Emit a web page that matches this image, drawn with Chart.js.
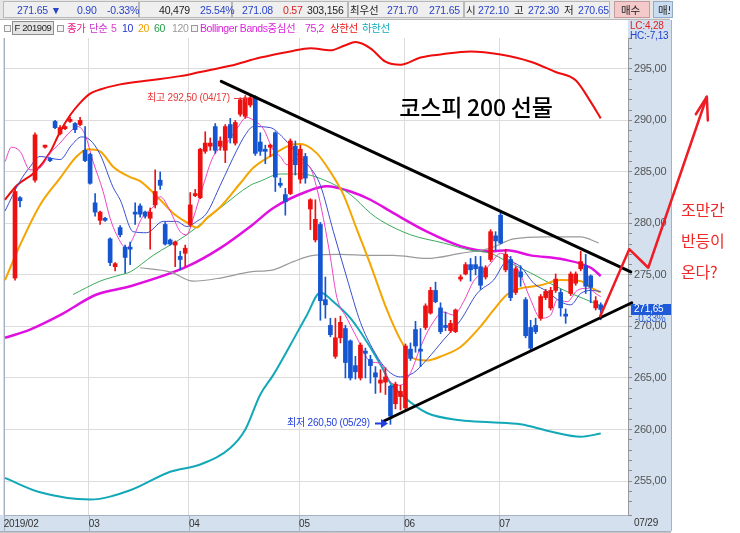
<!DOCTYPE html>
<html lang="ko">
<head>
<meta charset="UTF-8" />
<meta name="viewport" content="width=device-width, initial-scale=1" />
<title>코스피 200 선물</title>
<script src="https://cdn.jsdelivr.net/npm/chart.js"></script>
<style>
  body { margin: 0; background: #fff; }
  #wrap {
    position: relative; width: 740px; height: 533px; overflow: hidden;
    font-family: "Liberation Sans Narrow", "Liberation Sans", "Noto Sans CJK KR", sans-serif;
    font-size: 10.5px; letter-spacing: -0.2px;
  }
  #chart { position: absolute; left: 0; top: 0; }
  #row1 { position: absolute; left: 0; top: 0; width: 670px; height: 19px; background: #e6e6e6; border-bottom: 1px solid #b8b8b8; }
  .cell { position: absolute; top: 1px; height: 17px; border: 1px solid #b8b8b8; background: #efefef; box-sizing: border-box; }
  .hd { position: absolute; white-space: nowrap; line-height: 14px; }
  .r1 { top: 3px; }
  .r2 { top: 21px; font-size: 10.5px; letter-spacing: -0.4px; }
  .chk { position: absolute; top: 25px; width: 5px; height: 5px; border: 1px solid #9a9a9a; background: #f4f4f4; }
  .blue { color: #2a44c8; }
  #fbox { position: absolute; left: 12px; top: 21px; width: 42px; height: 14px; background: #e4e4e4; border: 1px solid #8d8d8d;
          box-sizing: border-box; font-size: 9.5px; letter-spacing: -0.4px; line-height: 12px; text-align: center; color: #222; white-space: nowrap; overflow: hidden; }
</style>
</head>
<body>
<div id="wrap">
  <canvas id="chart" width="740" height="533"></canvas>

  <div id="row1">
    <div class="cell" style="left:3px;width:136px"></div>
    <div class="cell" style="left:139px;width:93px"></div>
    <div class="cell" style="left:232px;width:116px"></div>
    <div class="cell" style="left:348px;width:116px"></div>
    <div class="cell" style="left:464px;width:146px"></div>
    <div class="cell" style="left:614px;width:36px;background:#f3c9c9;border-color:#c69a9a"></div>
    <div class="cell" style="left:653px;width:20px;background:#c9dcf1;border-color:#93a9c4"></div>
  </div>
  <span class="hd r1 blue" style="left:17px">271.65 ▼</span>
  <span class="hd r1 blue" style="left:77px">0.90</span>
  <span class="hd r1 blue" style="left:107px">-0.33%</span>
  <span class="hd r1" style="left:159px;color:#222">40,479</span>
  <span class="hd r1 blue" style="left:200px">25.54%</span>
  <span class="hd r1 blue" style="left:242px">271.08</span>
  <span class="hd r1" style="left:283px;color:#e02020">0.57</span>
  <span class="hd r1" style="left:307px;color:#222">303,156</span>
  <span class="hd r1" style="left:350px;color:#222">최우선</span>
  <span class="hd r1 blue" style="left:387px">271.70</span>
  <span class="hd r1 blue" style="left:429px">271.65</span>
  <span class="hd r1" style="left:466px;color:#222">시</span>
  <span class="hd r1 blue" style="left:478px">272.10</span>
  <span class="hd r1" style="left:514px;color:#222">고</span>
  <span class="hd r1 blue" style="left:528px">272.30</span>
  <span class="hd r1" style="left:564px;color:#222">저</span>
  <span class="hd r1 blue" style="left:578px">270.65</span>
  <span class="hd r1" style="left:621px;color:#222">매수</span>
  <span class="hd r1" style="left:658px;color:#222;width:12px;overflow:hidden">매도</span>

  <div class="chk" style="left:4px"></div>
  <div id="fbox">F 201909</div>
  <div class="chk" style="left:57px"></div>
  <span class="hd r2" style="left:67px;color:#e8208a">종가</span>
  <span class="hd r2" style="left:89px;color:#cc33cc">단순</span>
  <span class="hd r2" style="left:111px;color:#e040c0">5</span>
  <span class="hd r2" style="left:122px;color:#2233cc">10</span>
  <span class="hd r2" style="left:138px;color:#f0a000">20</span>
  <span class="hd r2" style="left:154px;color:#22a04a">60</span>
  <span class="hd r2" style="left:172px;color:#9a9a9a">120</span>
  <div class="chk" style="left:191px"></div>
  <span class="hd r2" style="left:200px;color:#dd22dd">Bollinger Bands중심선</span>
  <span class="hd r2" style="left:305px;color:#dd22dd">75,2</span>
  <span class="hd r2" style="left:330px;color:#ee1111">상한선</span>
  <span class="hd r2" style="left:362px;color:#11aabb">하한선</span>
</div>

<script>
  // trading-day index: 0 = 2019-02-01
  const monthTickIdx = [0, 17, 37, 59, 80, 99];
  const monthLabels = ['2019/02', '03', '04', '05', '06', '07'];
  const lastDateLabel = '07/29';

  // daily candles (KOSPI200 futures F201909)
  const candleIdx = [2,3,6,8,9,10,11,12,13,14,15,16,17,18,19,20,21,22,23,24,25,26,27,28,29,30,31,32,33,34,35,36,37,38,39,40,41,42,43,44,45,46,47,48,49,50,51,52,53,54,55,56,57,58,59,60,61,62,63,64,65,66,67,68,69,70,71,72,73,74,75,76,77,78,79,80,81,82,83,84,85,86,87,88,89,90,91,92,93,94,95,96,97,98,99,100,101,102,103,104,105,106,107,108,109,110,111,112,113,114,115,116,117,118,119];
  const opens  = [274.7,282.5,284.2,287.4,286.3,289.9,288.7,289.2,289.9,289.7,289.6,287.1,286.7,282.0,280.3,280.5,278.5,275.8,279.6,277.7,277.7,281.1,281.7,281.1,280.5,281.8,284.2,279.9,278.4,277.9,276.8,277.1,279.9,282.7,282.5,287.0,287.5,289.4,287.5,287.1,289.6,287.8,290.6,290.4,291.5,292.3,287.9,287.2,287.4,288.8,283.9,282.8,282.9,287.5,284.3,286.5,281.4,278.4,279.9,272.6,270.1,267.1,268.9,269.8,268.6,266.2,265.0,267.6,266.8,265.5,264.5,264.6,264.2,262.5,263.2,262.1,267.8,269.7,267.8,269.9,271.3,273.5,271.8,270.1,269.6,269.5,274.6,275.1,276.0,276.0,275.8,274.8,276.5,278.8,280.8,275.5,276.5,273.3,275.3,272.6,269.9,270.1,270.8,272.8,271.8,273.5,273.3,271.2,273.2,274.2,275.6,275.9,274.9,271.8,272.1];
  const highs  = [283.4,282.6,288.8,287.6,286.4,290.0,289.5,289.5,290.3,289.8,290.3,289.4,286.8,282.9,281.2,280.6,278.6,276.2,279.8,277.9,278.2,282.0,281.9,281.2,281.5,285.2,285.0,280.1,278.5,278.3,277.3,277.9,283.0,283.3,287.3,288.9,288.3,289.7,288.4,289.6,290.2,290.0,292.2,292.4,292.5,292.4,288.8,287.6,287.7,288.9,284.4,283.4,288.2,288.0,287.6,286.8,282.4,282.3,280.1,274.8,270.8,270.8,271.0,270.1,268.7,267.1,268.4,267.9,267.2,266.1,265.8,266.0,264.3,264.6,264.3,268.3,268.4,270.5,269.8,272.2,273.8,274.3,272.3,271.4,270.6,271.7,275.0,276.2,276.6,276.8,276.8,275.9,279.4,279.2,281.1,277.5,276.8,275.8,275.9,272.8,270.6,270.8,273.1,273.6,273.8,275.1,273.6,271.7,275.3,275.3,277.3,277.0,275.0,272.9,272.3];
  const lows   = [274.5,281.6,284.0,287.3,286.0,289.2,288.6,289.1,289.8,288.8,289.5,286.0,283.8,280.7,279.9,280.2,275.9,275.4,278.7,275.2,276.0,279.9,280.6,280.5,277.5,281.5,283.3,277.9,277.9,275.8,275.5,275.8,279.7,282.6,282.4,286.8,287.1,286.8,287.1,285.9,287.8,287.6,290.4,290.2,291.3,286.6,286.6,285.8,286.5,283.1,283.5,280.8,282.8,284.7,283.9,283.9,279.4,278.2,270.6,270.8,269.0,266.9,268.4,265.0,264.8,264.9,264.8,265.0,264.5,263.5,263.6,263.4,260.5,262.0,261.9,261.9,266.7,267.5,266.1,269.7,271.2,272.3,269.3,269.6,269.4,269.4,274.4,275.0,274.4,275.0,273.6,274.6,276.3,277.4,278.0,275.3,272.5,273.1,273.9,268.9,267.7,269.3,270.6,272.6,271.6,273.3,271.0,270.3,273.0,274.0,275.4,273.2,272.3,271.6,270.65];
  const closes = [283.1,282.2,288.6,287.6,286.1,289.3,289.3,289.4,290.1,289.1,290.0,286.1,283.9,281.1,281.1,280.3,276.2,276.1,278.9,276.7,277.5,280.9,280.9,280.7,281.1,283.1,283.7,278.0,278.0,278.2,276.5,277.6,281.8,282.9,287.2,287.8,287.8,287.1,288.0,289.4,288.3,289.8,292.0,292.2,292.2,286.8,287.0,287.0,287.6,284.5,283.7,282.1,288.0,285.7,287.2,284.4,282.3,280.4,272.5,272.1,269.2,268.9,270.4,266.5,265.0,265.6,268.2,267.4,266.2,265.1,264.8,265.1,261.3,264.4,263.7,268.1,266.9,268.1,267.6,272.0,273.5,272.4,269.5,269.9,270.3,271.6,274.8,276.0,275.5,275.6,274.0,275.7,279.2,278.3,278.1,277.0,272.8,275.6,274.8,269.1,267.9,269.5,272.9,273.4,273.5,274.6,271.8,271.0,275.1,275.1,276.3,273.9,273.8,272.5,271.65];

  // moving averages, sampled along the drawn curves
  const ma5Idx = [0,1.3,3,5,7,9,11,13,14.6,16,17.6,19.6,21,22.3,24.3,25.6,27.3,29.6,31,33,35,36.3,37.6,39.6,41.6,44.3,46.3,48.3,50,51.6,53.6,55,56.3,58,59.6,61,62.3,63.6,65,66.3,68.3,70.3,73,75,77,79,81,83,85,87.6,89.6,91.6,93.6,95.6,97,99,101,103,105,107,109,110.3,112.3,114.3,116.3,118.3,119];
  const ma5Val = [286.0,287.4,287.0,285.2,285.4,286.8,287.8,288.9,289.4,288.6,286.0,283.1,280.5,278.9,277.6,278.6,280.5,281.6,282.6,281.2,279.2,278.9,280.5,283.7,286.5,287.8,289.2,290.3,289.9,289.2,287.1,286.5,285.7,286.3,285.8,285.4,283.4,280.5,276.7,272.8,270.8,268.9,266.6,266.4,264.6,264.3,265.5,268.0,270.0,271.4,271.1,272.4,274.4,275.3,276.1,277.1,276.6,275.0,272.6,270.8,271.1,272.6,272.4,273.5,273.7,273.1,272.9];
  const ma10Idx = [0,3,5,7,11,13.3,15.3,17,19,21.6,23,25.6,28.3,31.6,34.3,36.3,38.3,40.3,43,46.3,48,49.6,53,55.6,59,61,63,65.6,68.3,71,73.6,76.3,79,81.6,84.3,87.6,91,94.3,97.6,100.3,103,105.6,108.3,111,113,115,117,119];
  const ma10Val = [281.2,284.1,285.5,286.5,286.2,287.6,288.4,288.1,286.7,283.5,282.3,279.2,279.1,280.2,280.2,279.7,280.2,281.0,283.7,287.1,288.6,289.4,289.3,288.3,286.4,285.4,283.7,279.2,274.7,270.4,267.7,265.8,265.1,265.5,266.8,268.7,270.6,273.2,274.5,276.3,275.8,274.2,273.4,272.4,272.1,273.2,273.5,273.4];
  const ma20Idx = [0,3,7,11,14.3,16.6,19,21.6,23,25,27,31,33.6,36.3,38.3,40.3,43,47,49.6,53.6,57,59,62.3,65,67.6,70.3,73,76.3,79,81.6,84.3,87.6,91,95,97.6,100.3,103,107,111,115,117,119];
  const ma20Val = [274.5,277.9,281.8,284.4,286.5,287.2,287.0,285.5,285.0,284.5,284.1,282.3,281.0,280.1,279.6,280.5,281.6,283.9,285.4,286.7,287.6,287.7,286.8,285.0,282.8,279.4,276.0,271.6,268.7,266.9,266.7,267.2,268.0,270.0,271.6,273.1,273.7,274.0,274.5,274.4,273.8,273.3];
  const ma60Idx = [13.6,19,23,25,29.6,36.3,43,49,51,55,59,64.3,69,73,75,81,87.6,93,97,100.3,105,109.6,113.6,117.6,119];
  const ma60Val = [273.1,274.4,275.0,275.3,276.9,278.9,281.5,283.7,284.1,284.8,284.8,284.1,282.8,281.0,280.3,278.9,278.1,277.4,277.1,276.3,275.2,274.0,273.1,272.3,272.0];
  const ma120Idx = [27,33,37.6,43,49,53.6,57.6,61.6,67,73,77.6,84.3,91,97,101.6,108.3,115,118.6];
  const ma120Val = [275.7,275.3,274.4,274.7,275.3,275.5,276.3,276.9,277.0,276.9,276.9,276.6,277.1,277.6,278.5,278.7,278.7,278.1];

  // Bollinger Bands (75, 2)
  const bbIdx = [0,5,11,18.3,25,36.3,43,49,53.6,60.3,64.3,69,73,77.6,84.3,91,97,100.3,105,111.6,117,119];
  const bbMid = [268.9,269.7,271.1,273.1,273.9,275.8,277.6,279.7,281.5,283.1,283.6,283.1,282.3,281.0,279.2,277.8,277.3,277.4,276.9,276.5,275.7,274.9];
  const bbUpIdx = [0,2.4,6,9,11,13,15,17,19,23,29,35,39,45,51,57,61,65,68,70,73,76,79,83,87,93,99,105,110,114,117,119];
  const bbUp = [282.3,283.7,285.0,286.9,288.9,290.5,291.7,292.6,293.0,293.5,293.9,294.3,294.7,295.3,296.1,296.7,297.0,296.8,297.3,297.6,297.0,295.7,295.4,296.1,296.4,296.7,296.4,295.7,294.7,293.9,291.8,290.2];
  const bbLoIdx = [0,7,17,25,33,39,45,48,51,53.6,57,60.3,63,65.6,69,72.3,75,77,79.6,84.3,91,97,103,109,115,119];
  const bbLo = [255.3,253.9,253.2,254.1,255.9,256.6,258.2,260.0,263.4,265.3,268.2,271.1,273.3,272.4,270.8,268.5,266.3,264.5,263.2,261.6,260.9,260.7,260.5,259.8,259.3,259.6];

  // hand-drawn triangle and forecast arrow
  const trendUpIdx = [43.2, 125.0], trendUpVal = [293.8, 275.3];
  const trendLoIdx = [75.6, 125.2], trendLoVal = [260.8, 272.3];
  const arrowIdx = [118.9, 124.7, 128.5, 140.2], arrowVal = [271.0, 277.5, 275.7, 292.3];
  const arrowHeadIdx = [138.0, 140.2, 140.4], arrowHeadVal = [290.6, 292.3, 290.0];

  const UP = '#ee1111', DOWN = '#1555d0';
  const PANEL = '#d4e0ee';
  const narrow = '"Liberation Sans Narrow", "Liberation Sans", "Noto Sans CJK KR", sans-serif';
  const kor = '"Noto Sans CJK KR", sans-serif';

  const bodies = candleIdx.map((x, k) => ({ x: x, y: [opens[k], closes[k]], up: closes[k] >= opens[k] }));
  const wicks = candleIdx.map((x, k) => ({ x: x, y: [lows[k], highs[k]], up: closes[k] >= opens[k] }));
  const candleColor = c => (c.raw && c.raw.up ? UP : DOWN);

  function pts(xs, ys) { return xs.map((x, k) => ({ x: x, y: ys[k] })); }
  function line(label, xs, ys, color, width, order, extra) {
    return Object.assign({
      type: 'line', label: label, data: pts(xs, ys),
      borderColor: color, borderWidth: width, pointRadius: 0,
      cubicInterpolationMode: 'monotone', fill: false, order: order
    }, extra || {});
  }
  const straight = { cubicInterpolationMode: 'default', tension: 0, clip: false, borderCapStyle: 'round', borderJoinStyle: 'round' };

  const isMajor = v => Math.abs(v - Math.round(v / 5) * 5) < 1e-6;

  const panels = {
    id: 'panels',
    beforeDraw(chart) {
      const ctx = chart.ctx, a = chart.chartArea;
      ctx.save();
      ctx.fillStyle = PANEL;
      ctx.fillRect(a.right, 20, 43, 511);
      ctx.fillRect(0, a.bottom, a.right + 43, 16);
      ctx.fillStyle = '#c4c4c4';
      ctx.fillRect(0, 531, a.right + 43, 2);
      ctx.strokeStyle = '#a6b2c2';
      ctx.lineWidth = 1;
      ctx.beginPath();
      ctx.moveTo(a.right + 43.5, 20); ctx.lineTo(a.right + 43.5, 531);
      ctx.moveTo(0, a.bottom + 16.5); ctx.lineTo(a.right + 43, a.bottom + 16.5);
      ctx.moveTo(4.5, a.top); ctx.lineTo(4.5, a.bottom);
      const xs = chart.scales.x;
      xs.ticks.forEach(t => {
        const px = Math.round(xs.getPixelForValue(t.value)) + 0.5;
        ctx.moveTo(px, a.bottom); ctx.lineTo(px, a.bottom + 16);
      });
      ctx.stroke();
      ctx.restore();
    },
    afterDraw(chart) {
      const ctx = chart.ctx, a = chart.chartArea;
      ctx.save();
      ctx.textBaseline = 'middle';

      ctx.fillStyle = '#000';
      ctx.font = '500 23px ' + kor;
      ctx.textAlign = 'center';
      ctx.fillText('코스피 200 선물', 476, 107);

      ctx.textAlign = 'left';
      ctx.font = '10px ' + narrow;
      ctx.fillStyle = '#e83a3a';
      ctx.fillText('최고 292,50 (04/17)', 147, 98);
      ctx.strokeStyle = '#e83a3a';
      ctx.lineWidth = 1;
      ctx.beginPath();
      ctx.moveTo(234, 98.5); ctx.lineTo(245, 98.5);
      ctx.moveTo(245.5, 95); ctx.lineTo(245.5, 102);
      ctx.stroke();

      ctx.fillStyle = '#1f3ee0';
      ctx.fillText('최저 260,50 (05/29)', 287, 423);
      ctx.strokeStyle = '#1f3ee0';
      ctx.lineWidth = 2;
      ctx.beginPath();
      ctx.moveTo(375, 423.5); ctx.lineTo(382, 423.5);
      ctx.stroke();
      ctx.beginPath();
      ctx.moveTo(388, 423.5); ctx.lineTo(381, 419); ctx.lineTo(381, 428); ctx.closePath();
      ctx.fill();

      ctx.fillStyle = '#f02828';
      ctx.font = '16px ' + kor;
      ctx.fillText('조만간', 681, 210);
      ctx.fillText('반등이', 681, 241);
      ctx.fillText('온다?', 681, 272);

      ctx.font = '10px ' + narrow;
      ctx.fillStyle = '#e02020';
      ctx.fillText('LC:4,28', 630, 26);
      ctx.fillStyle = '#2040d0';
      ctx.fillText('HC:-7,13', 630, 36);

      const py = Math.round(chart.scales.y.getPixelForValue(closes[closes.length - 1]));
      ctx.fillStyle = '#1e5ad8';
      ctx.fillRect(a.right + 3, py - 5, 40, 11);
      ctx.fillStyle = '#fff';
      ctx.fillText('271,65', a.right + 6, py + 0.5);
      ctx.fillStyle = '#2a5fd8';
      ctx.fillText('-0,33%', a.right + 7, py + 10);

      ctx.fillStyle = '#333';
      ctx.fillText(lastDateLabel, a.right + 6, a.bottom + 8);
      ctx.restore();
    }
  };

  new Chart(document.getElementById('chart'), {
    type: 'bar',
    data: {
      datasets: [
        line('arrow', arrowIdx, arrowVal, '#ee1c24', 2.5, 0, straight),
        line('arrowHead', arrowHeadIdx, arrowHeadVal, '#ee1c24', 2.5, 0, straight),
        line('upper trend', trendUpIdx, trendUpVal, '#000', 3, 1, straight),
        line('lower trend', trendLoIdx, trendLoVal, '#000', 3, 1, straight),
        { type: 'bar', label: 'body', data: bodies, backgroundColor: candleColor, barThickness: 4, minBarLength: 1, grouped: false, order: 2 },
        { type: 'bar', label: 'wick', data: wicks, backgroundColor: candleColor, barThickness: 1, grouped: false, order: 3 },
        line('5', ma5Idx, ma5Val, '#ee44c4', 1, 4),
        line('10', ma10Idx, ma10Val, '#3a4ed0', 1, 5),
        line('20', ma20Idx, ma20Val, '#f5a400', 2, 6),
        line('60', ma60Idx, ma60Val, '#3aaa5a', 1, 7),
        line('120', ma120Idx, ma120Val, '#9a9a9a', 1.2, 8),
        line('중심선', bbIdx, bbMid, '#e010e0', 2.5, 9),
        line('상한선', bbUpIdx, bbUp, '#ee0c0c', 2, 10),
        line('하한선', bbLoIdx, bbLo, '#12a8b8', 2, 11)
      ]
    },
    options: {
      responsive: false,
      animation: false,
      events: [],
      layout: { padding: { left: 5, top: 38, right: 0, bottom: 0 } },
      plugins: { legend: { display: false }, tooltip: { enabled: false } },
      scales: {
        x: {
          type: 'linear',
          offset: false,
          bounds: 'data',
          afterDataLimits: s => { s.min = 0; s.max = 124.45; },
          afterBuildTicks: s => { s.ticks = monthTickIdx.map(v => ({ value: v - 0.25 })); },
          afterFit: s => { s.height = 18; },
          grid: { color: '#dcdcdc', drawTicks: false, offset: false },
          border: { color: '#a6b2c2' },
          ticks: {
            autoSkip: false, maxRotation: 0, align: 'start', padding: 3,
            color: '#333', font: { family: narrow, size: 10 },
            callback: (v, i) => monthLabels[i]
          }
        },
        y: {
          position: 'right',
          min: 251.7,
          max: 298.0,
          afterFit: s => { s.width = 112; },
          grid: {
            color: c => (isMajor(c.tick.value) ? '#dcdcdc' : 'rgba(0,0,0,0)'),
            tickColor: '#8c8c8c', tickLength: 4
          },
          border: { color: '#9a9a9a' },
          ticks: {
            stepSize: 1, autoSkip: false, padding: 2,
            color: '#555', font: { family: narrow, size: 11 },
            callback: v => (isMajor(v) ? v.toFixed(2).replace('.', ',') : '')
          }
        }
      }
    },
    plugins: [panels]
  });
</script>
</body>
</html>
